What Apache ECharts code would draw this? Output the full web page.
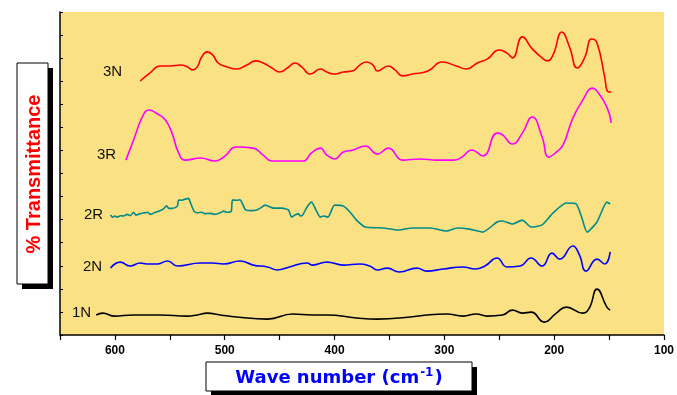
<!DOCTYPE html>
<html>
<head>
<meta charset="utf-8">
<script src="https://cdn.jsdelivr.net/npm/echarts@6/dist/echarts.min.js"></script>
<style>
  html, body { margin: 0; padding: 0; background: #ffffff; }
  #chart { width: 677px; height: 395px; }
</style>
</head>
<body>
<div id="chart"></div>
<script>
// Far-IR spectra (wave number in cm-1, transmittance in offset units)
const xTicks = [600, 500, 400, 300, 200, 100];

const wn3N = [577, 568, 559, 550, 540, 534, 529, 525, 521, 516, 511, 506, 498, 489, 480, 472, 465, 457, 450, 443, 436, 430, 422, 413, 407, 401, 392, 384, 377, 371, 365, 361, 351, 345, 338, 329, 315, 302, 289, 280, 270, 261, 250, 243, 238, 229, 220, 211, 206, 201, 193, 186, 179, 172, 166, 161, 154, 151, 148];
const t3N = [11.01, 11.36, 11.66, 11.66, 11.70, 11.62, 11.49, 11.62, 12.05, 12.27, 12.14, 11.79, 11.62, 11.53, 11.70, 11.88, 11.79, 11.57, 11.40, 11.57, 11.79, 11.62, 11.31, 11.53, 11.40, 11.31, 11.40, 11.44, 11.70, 11.83, 11.70, 11.44, 11.66, 11.49, 11.23, 11.31, 11.44, 11.83, 11.66, 11.53, 11.79, 11.96, 12.35, 12.22, 12.01, 12.92, 12.40, 12.01, 11.88, 12.14, 13.13, 12.48, 11.57, 12.05, 12.83, 12.66, 11.18, 10.55, 10.53];

const wn3R = [590, 583, 575, 569, 561, 554, 548, 542, 536, 522, 509, 501, 489, 474, 465, 457, 429, 421, 413, 407, 400, 392, 383, 372, 361, 351, 338, 322, 307, 291, 284, 275, 265, 252, 248, 238, 229, 220, 211, 205, 198, 192, 183, 174, 165, 161, 152, 148];
const t3R = [7.58, 8.45, 9.45, 9.75, 9.58, 9.32, 8.75, 7.89, 7.58, 7.67, 7.54, 7.71, 8.15, 8.10, 7.80, 7.54, 7.54, 7.89, 8.10, 7.80, 7.63, 7.93, 8.02, 8.19, 7.84, 8.10, 7.58, 7.63, 7.58, 7.58, 7.71, 8.02, 7.76, 8.75, 8.71, 8.28, 8.75, 9.45, 8.58, 7.71, 7.93, 8.23, 9.40, 10.18, 10.70, 10.57, 9.88, 9.19];

const wn2R = [604, 602, 600, 598, 595, 592, 589, 586, 583, 581, 577, 574, 570, 568, 563, 559, 556, 553, 551, 548, 545, 543, 542, 539, 536, 533, 531, 528, 525, 521, 518, 513, 509, 504, 501, 498, 494, 493, 489, 486, 484, 481, 475, 471, 468, 463, 456, 448, 442, 439, 436, 433, 431, 429, 425, 421, 416, 413, 410, 406, 400, 392, 386, 380, 372, 356, 342, 329, 313, 298, 288, 277, 265, 252, 247, 238, 229, 221, 211, 201, 189, 180, 175, 170, 161, 152, 149];
const t2R = [5.20, 5.10, 5.16, 5.11, 5.17, 5.16, 5.23, 5.17, 5.32, 5.20, 5.26, 5.29, 5.32, 5.23, 5.32, 5.39, 5.46, 5.60, 5.49, 5.49, 5.52, 5.60, 5.85, 5.84, 5.89, 5.92, 5.71, 5.37, 5.30, 5.32, 5.26, 5.27, 5.23, 5.30, 5.37, 5.32, 5.37, 5.85, 5.84, 5.86, 5.71, 5.42, 5.39, 5.42, 5.49, 5.63, 5.50, 5.50, 5.42, 5.11, 5.20, 5.25, 5.16, 5.20, 5.55, 5.76, 5.33, 5.11, 5.16, 5.11, 5.63, 5.59, 5.33, 4.98, 4.68, 4.64, 4.55, 4.64, 4.64, 4.51, 4.64, 4.59, 4.46, 4.90, 4.94, 4.81, 4.98, 4.68, 4.77, 5.29, 5.72, 5.68, 5.11, 4.46, 4.90, 5.76, 5.68];

const wn2N = [604, 595, 586, 577, 571, 561, 552, 543, 522, 511, 501, 486, 474, 461, 452, 441, 425, 420, 407, 392, 377, 368, 361, 352, 341, 325, 316, 301, 283, 272, 263, 252, 243, 231, 221, 211, 202, 195, 183, 177, 171, 161, 154, 149];
const t2N = [2.90, 3.16, 2.99, 3.12, 3.08, 3.08, 3.21, 2.99, 3.12, 3.12, 3.08, 3.21, 3.03, 2.95, 2.82, 2.95, 3.12, 3.03, 3.16, 3.03, 3.08, 2.99, 2.82, 2.90, 2.73, 2.90, 2.77, 2.86, 2.95, 2.86, 2.99, 3.34, 2.95, 2.99, 3.34, 2.99, 3.55, 3.29, 3.86, 3.47, 2.77, 3.29, 3.08, 3.60];

const wn1N = [617, 611, 601, 583, 559, 534, 525, 516, 504, 489, 461, 438, 420, 407, 380, 361, 331, 316, 298, 283, 271, 261, 247, 238, 229, 221, 209, 198, 189, 174, 168, 161, 152, 149];
const t1N = [0.87, 0.95, 0.82, 0.87, 0.87, 0.82, 0.87, 0.95, 0.87, 0.78, 0.69, 0.91, 0.87, 0.87, 0.74, 0.69, 0.78, 0.87, 0.91, 0.82, 0.91, 0.82, 0.87, 1.08, 0.95, 0.99, 0.56, 0.95, 1.21, 0.95, 1.17, 1.99, 1.21, 1.08];

const sampleNames = ['3N', '3R', '2R', '2N', '1N'];
const sampleColors = ['#ff0000', '#ff00ff', '#008b8b', '#0000ff', '#000000'];

const pairs = (xs, ys) => xs.map((x, i) => [x, ys[i]]);
const spectra = [pairs(wn3N, t3N), pairs(wn3R, t3R), pairs(wn2R, t2R), pairs(wn2N, t2N), pairs(wn1N, t1N)];
const smoothness = [0.5, 0.5, 0.2, 0.5, 0.5];

const FONT = '"Liberation Sans", Arial, sans-serif';

const chart = echarts.init(document.getElementById('chart'), null, { renderer: 'canvas' });

// sample name labels to the left of each trace
const nameLabels = [
  { text: '3N', x: 103, y: 72 },
  { text: '3R', x: 97, y: 155 },
  { text: '2R', x: 84, y: 215 },
  { text: '2N', x: 83, y: 267 },
  { text: '1N', x: 72, y: 313 }
].map(l => ({
  type: 'text', left: l.x, top: l.y - 8, z: 10,
  style: { text: l.text, font: '15px ' + FONT, fill: '#111111' }
}));

chart.setOption({
  animation: false,
  backgroundColor: '#ffffff',
  grid: {
    left: 60, right: 13, top: 12, bottom: 60,
    show: true, backgroundColor: '#f9e184', borderWidth: 0
  },
  xAxis: {
    type: 'value', inverse: true, min: 100, max: 650, interval: 50,
    axisLine: { show: true, lineStyle: { color: '#000', width: 1.5 } },
    axisTick: { show: true, length: 5, lineStyle: { color: '#000', width: 1.2 } },
    splitLine: { show: false },
    axisLabel: {
      margin: 10, color: '#000', fontWeight: 'bold', fontSize: 12, fontFamily: FONT,
      formatter: v => (xTicks.indexOf(v) >= 0 ? String(v) : '')
    }
  },
  yAxis: {
    type: 'value', min: 0, max: 14, interval: 1,
    axisLine: { show: true, lineStyle: { color: '#000', width: 1.5 } },
    axisTick: { show: true, inside: true, length: 3, lineStyle: { color: '#000', width: 1 } },
    axisLabel: { show: false },
    splitLine: { show: false }
  },
  series: spectra.map((d, i) => ({
    name: sampleNames[i],
    type: 'line',
    data: d,
    smooth: smoothness[i],
    showSymbol: false,
    lineStyle: { color: sampleColors[i], width: 1.6 },
    z: 5
  })),
  graphic: [
    // y-axis title box with drop shadow
    { type: 'rect', shape: { x: 22, y: 68, width: 31, height: 221 }, style: { fill: '#000' }, z: 20 },
    { type: 'rect', shape: { x: 17, y: 63, width: 31, height: 221 }, style: { fill: '#fff', stroke: '#000', lineWidth: 1 }, z: 21 },
    {
      type: 'text', x: 34, y: 174, rotation: Math.PI / 2, z: 22,
      style: { text: '% Transmittance', font: 'bold 20px ' + FONT, fill: '#ff0000', align: 'center', verticalAlign: 'middle' }
    },
    // x-axis title box with drop shadow
    { type: 'rect', shape: { x: 211, y: 367, width: 266, height: 29 }, style: { fill: '#000' }, z: 20 },
    { type: 'rect', shape: { x: 206, y: 362, width: 266, height: 29 }, style: { fill: '#fff', stroke: '#000', lineWidth: 1 }, z: 21 },
    {
      type: 'text', x: 339, y: 378, z: 22,
      style: {
        text: '{a|Wave number (cm}{s|-1}{a|)}',
        align: 'center', verticalAlign: 'middle',
        rich: {
          a: { font: 'bold 18px "DejaVu Sans", sans-serif', fill: '#0000ff', lineHeight: 22 },
          s: { font: 'bold 12px "DejaVu Sans", sans-serif', fill: '#0000ff', lineHeight: 22, verticalAlign: 'top', padding: [0, 1, 8, 1] }
        }
      }
    }
  ].concat(nameLabels)
});
</script>
</body>
</html>
